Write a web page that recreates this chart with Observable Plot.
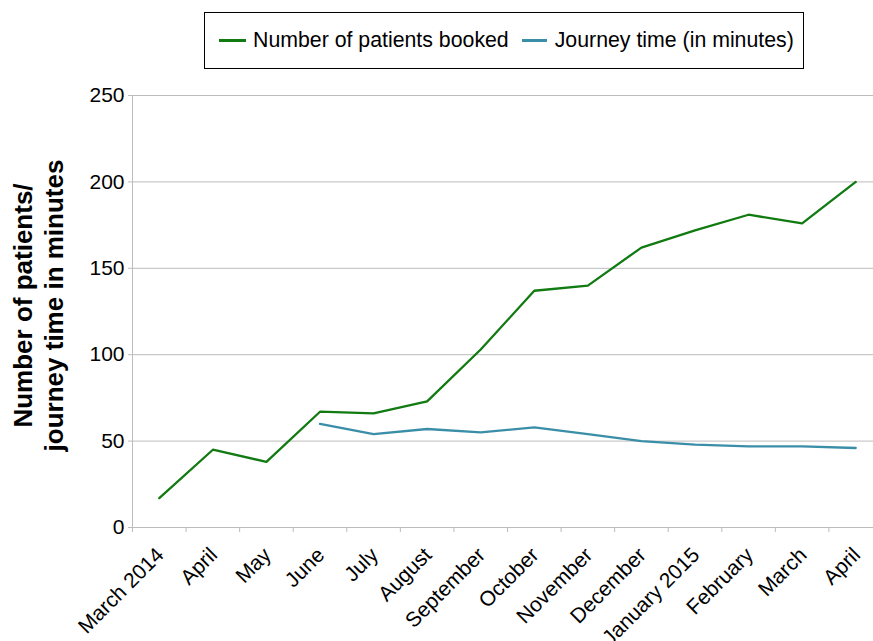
<!DOCTYPE html>
<html>
<head>
<meta charset="utf-8">
<script src="https://cdn.jsdelivr.net/npm/d3@7"></script>
<script src="https://cdn.jsdelivr.net/npm/@observablehq/plot@0.6"></script>
<style>
  html, body { margin: 0; padding: 0; overflow: hidden; background: #fff; }
  body { width: 873px; height: 641px; position: relative; font-family: "Liberation Sans", Arial, sans-serif; }
  #legend { position: absolute; left: 204px; top: 12px; width: 598px; height: 55px; border: 1.5px solid #000;
            display: flex; align-items: center; font-size: 21.3px; color: #000; box-sizing: content-box; }
  .sw { display: inline-block; height: 3px; }
  #chart { position: absolute; left: 0; top: 80px; }
</style>
</head>
<body>
<div id="legend"></div>
<div id="chart"></div>
<script>
const months = ["March 2014", "April", "May", "June", "July", "August", "September", "October",
                "November", "December", "January 2015", "February", "March", "April"];
const patients = [17, 45, 38, 67, 66, 73, 103, 137, 140, 162, 172, 181, 176, 200];
const journey = [null, null, null, 60, 54, 57, 55, 58, 54, 50, 48, 47, 47, 46];
const yTicks = [0, 50, 100, 150, 200, 250];
const seriesNames = ["Number of patients booked", "Journey time (in minutes)"];
const colors = ["#117a11", "#3a8ea8"];

const idx = d3.range(months.length);
const rows = idx.map(i => ({i, month: months[i], patients: patients[i], journey: journey[i]}));

const width = 873, height = 561;
const marginLeft = 132, marginRight = 0, marginTop = 15, marginBottom = 114;
const xRange = [132, 882];
const step = (xRange[1] - xRange[0]) / months.length;
const font = "'Liberation Sans', Arial, sans-serif";

const legend = document.getElementById("legend");
legend.innerHTML =
  `<span class="sw" style="width:27px;background:${colors[0]};margin-left:14px"></span>` +
  `<span style="margin-left:7px">${seriesNames[0]}</span>` +
  `<span class="sw" style="width:25px;background:${colors[1]};margin-left:13px"></span>` +
  `<span style="margin-left:8px">${seriesNames[1]}</span>`;

const chart = Plot.plot({
  width, height, marginLeft, marginRight, marginTop, marginBottom,
  style: {fontFamily: font, background: "transparent"},
  x: {type: "point", domain: idx, padding: 0.5, round: false, range: xRange, axis: null},
  y: {domain: [0, 250], axis: null},
  marks: [
    Plot.gridY(yTicks, {stroke: "#bcbcbc", strokeOpacity: 1}),
    Plot.frame({anchor: "left", stroke: "#bcbcbc"}),
    Plot.frame({anchor: "bottom", stroke: "#bcbcbc"}),
    Plot.axisY(yTicks, {tickSize: 4, tickPadding: 4, fontSize: 21, stroke: "#bcbcbc", fill: "#000", label: null}),
    Plot.axisX(idx, {tickSize: 5, dx: -step / 2, stroke: "#bcbcbc", tickFormat: () => "", label: null}),
    Plot.text(idx, {x: d => d, frameAnchor: "bottom", text: d => months[d], rotate: -45,
      textAnchor: "end", lineAnchor: "middle", dx: 1, dy: 24, fontSize: 21, fill: "#000"}),
    Plot.text(["Number of patients/\njourney time in minutes"], {frameAnchor: "left", rotate: -90,
      textAnchor: "middle", lineAnchor: "middle",
      dx: -95, dy: -6, fontSize: 26, fontWeight: "bold", lineHeight: 1.2, fill: "#000"}),
    Plot.line(rows, {x: "i", y: "journey", stroke: colors[1], strokeWidth: 2.3, curve: "linear"}),
    Plot.line(rows, {x: "i", y: "patients", stroke: colors[0], strokeWidth: 2.3, curve: "linear"})
  ]
});
document.getElementById("chart").appendChild(chart);
</script>
</body>
</html>
